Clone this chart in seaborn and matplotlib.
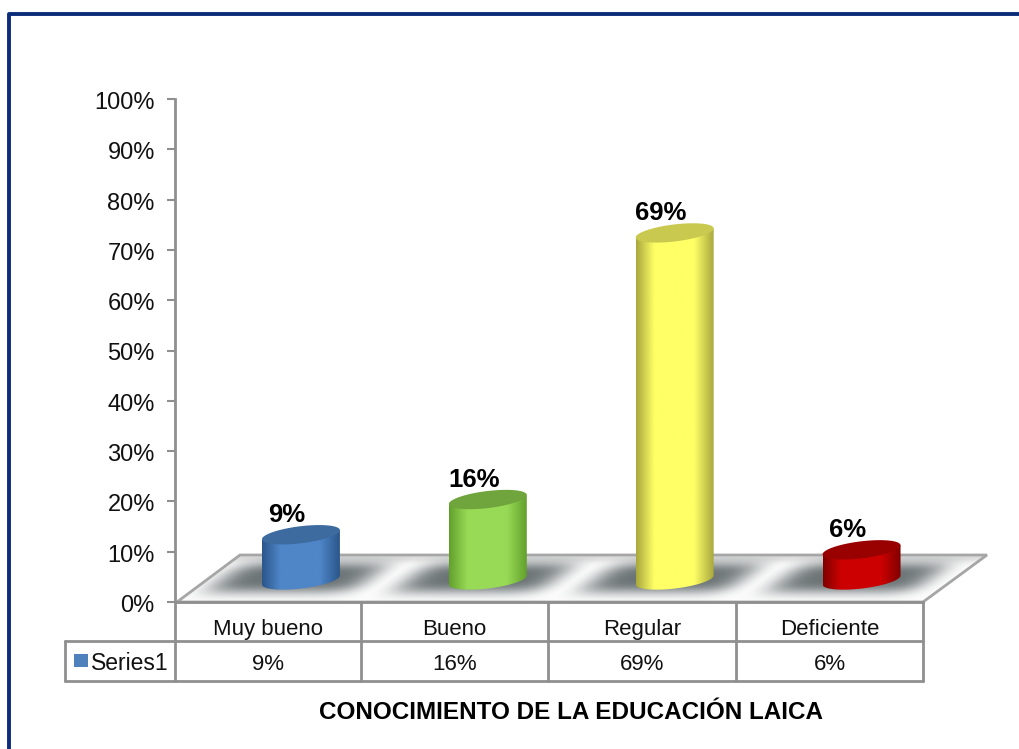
import numpy as np
import pandas as pd
import matplotlib
matplotlib.use("Agg")
import matplotlib.pyplot as plt
from matplotlib.colors import LinearSegmentedColormap
from matplotlib.patches import PathPatch, Polygon, Rectangle
from matplotlib.path import Path
from matplotlib.ticker import PercentFormatter
from matplotlib.transforms import ScaledTranslation
import seaborn as sns

categories = ["Muy bueno", "Bueno", "Regular", "Deficiente"]
values = [9, 16, 69, 6]
series_name = "Series1"
title = "CONOCIMIENTO DE LA EDUCACIÓN LAICA"
y_ticks = list(range(0, 101, 10))

top_colors = ["#3d6b9f", "#6fa53c", "#c9c94f", "#990000"]
edge_colors = ["#2a568a", "#62a02c", "#a8a83e", "#800000"]
mid_colors = ["#4f86c8", "#98da56", "#ffff66", "#cc0000"]
legend_color = "#4f81bd"
grey = "#8f8f8f"
navy = "#0b2c78"

W, H = 1019, 749


def px_axes(fig, left, top, right, bottom, **kw):
    # axes from pixel box of the picture
    return fig.add_axes([left / W, 1 - bottom / H, (right - left) / W, (bottom - top) / H], **kw)


def draw_floor(bg, centres):
    x0, x1, y0, y1 = 177, 987, 555, 602
    xx, yy = np.meshgrid(np.arange(x0, x1), np.arange(y0, y1))
    shade = 0.0 * xx
    for c in centres:
        dx = xx - c + (yy - 577) * 1.3 + 4
        shade = np.maximum(shade, np.exp(-(dx / 76) ** 6))
    shade = shade * np.exp(-np.abs((yy - 577) / 16.0) ** 3)
    base = 0.99 - 0.12 * np.exp(-((yy - 557) / 5.0) ** 2)
    dark = np.array([0.42, 0.45, 0.46])
    img = base[..., None] * (1 - shade[..., None]) + dark * shade[..., None]
    im = bg.imshow(img, extent=(x0, x1, y1, y0), aspect="auto", interpolation="bilinear", zorder=1)
    floor = Polygon([(177, 602), (240, 555), (987, 555), (923, 602)], closed=True,
                    fc="none", ec="#a6a6a6", lw=2, zorder=2)
    bg.add_patch(floor)
    im.set_clip_path(floor)


def draw_table(bg):
    xs = [175, 361, 548, 736, 923]
    bg.plot([175, 923], [602, 602], color=grey, lw=2, zorder=3)
    bg.plot([65, 923], [641, 641], color=grey, lw=2, zorder=3)
    bg.plot([65, 923], [681, 681], color=grey, lw=2, zorder=3)
    bg.plot([65, 65], [641, 681], color=grey, lw=2, zorder=3)
    for x in xs:
        bg.plot([x, x], [602, 681], color=grey, lw=2, zorder=3)
    for i in range(len(categories)):
        mid = (xs[i] + xs[i + 1]) / 2
        bg.text(mid, 635, categories[i], ha="center", va="baseline", fontsize=16, color="#111111")
        bg.text(mid, 670, f"{values[i]}%", ha="center", va="baseline", fontsize=16, color="#111111")
    bg.add_patch(Rectangle((74, 654), 14, 13, fc=legend_color, ec="none", zorder=3))
    bg.text(91, 670, series_name, ha="left", va="baseline", fontsize=16.5, color="#111111")
    bg.text(571, 719, title, ha="center", va="baseline", fontsize=17.5, fontweight="bold", color="#000000")


def draw_cylinders(ax, fig):
    # seaborn bars give the positions, the round look goes on top
    bars = sorted(ax.patches, key=lambda p: p.get_x())
    b, s = 1.7, 0.9
    t = np.linspace(0, 2 * np.pi, 120)
    for i, bar in enumerate(bars):
        a = bar.get_width() / 2
        cx = bar.get_x() + a
        h = bar.get_height()
        ex = cx + a * np.cos(t)
        ey = b * np.sin(t) + s * np.cos(t)
        low = t > np.pi
        body_x = np.r_[ex[low], cx + a, cx - a]
        body_y = np.r_[ey[low], h + s, h - s]
        body = PathPatch(Path(np.c_[body_x, body_y]), transform=ax.transData, fc="none", ec="none")
        body.set_clip_on(False)
        ax.add_patch(body)
        bar.set_visible(False)

        cmap = LinearSegmentedColormap.from_list(
            "cyl", [edge_colors[i], mid_colors[i], mid_colors[i], edge_colors[i]])
        grad = np.interp(np.linspace(0, 1, 200), [0, 0.35, 0.62, 1], [0, 0.5, 0.5, 1])[None, :]
        im = ax.imshow(grad, extent=(cx - a, cx + a, -3, h + 3), cmap=cmap, vmin=0, vmax=1,
                       aspect="auto", zorder=3)
        im.set_clip_box(fig.bbox)
        im.set_clip_path(body)
        ax.fill(ex, h + ey, color=top_colors[i], zorder=4, clip_on=False, lw=0)

        ax.annotate(f"{values[i]}%", (cx, h), xytext=(-14, 13), textcoords="offset pixels",
                    ha="center", va="baseline", fontsize=18.5, fontweight="bold", color="#000000",
                    zorder=5)


def main():
    sns.set_style("white")
    plt.rcParams["font.family"] = ["Liberation Sans", "DejaVu Sans"]

    df = pd.DataFrame({"categoria": categories, "valor": values})

    fig = plt.figure(figsize=(W / 100, H / 100), dpi=100, facecolor="white")

    bg = px_axes(fig, 0, 0, W, H, zorder=0)
    bg.set_xlim(0, W)
    bg.set_ylim(H, 0)
    bg.axis("off")

    ax_y = px_axes(fig, 175, 99, 923, 602, zorder=1)
    ax_y.patch.set_visible(False)
    ax_y.set_ylim(0, 100)
    ax_y.set_yticks(y_ticks)
    ax_y.yaxis.set_major_formatter(PercentFormatter(decimals=0))
    ax_y.set_xticks([])
    ax_y.tick_params(axis="y", left=True, length=5.5, width=1.5, color=grey, pad=9,
                     labelsize=17, labelcolor="#111111")
    down = ScaledTranslation(0, -1.5 / 100, fig.dpi_scale_trans)
    for label in ax_y.get_yticklabels():
        label.set_transform(label.get_transform() + down)
    for name, sp in ax_y.spines.items():
        sp.set_visible(name == "left")
    ax_y.spines["left"].set_color(grey)
    ax_y.spines["left"].set_linewidth(2)

    ax_b = px_axes(fig, 207.5, 77, 955, 580, zorder=2)
    ax_b.patch.set_visible(False)
    sns.barplot(data=df, x="categoria", y="valor", hue="categoria", palette=mid_colors,
                width=0.417, legend=False, ax=ax_b)
    ax_b.set_xlim(-0.5, 3.5)
    ax_b.set_ylim(0, 100)
    ax_b.axis("off")

    centres = [ax_b.transData.transform((p.get_x() + p.get_width() / 2, 0))[0] for p in ax_b.patches]
    draw_floor(bg, sorted(centres))
    bg.set_xlim(0, W)
    bg.set_ylim(H, 0)
    draw_table(bg)
    draw_cylinders(ax_b, fig)
    ax_b.set_xlim(-0.5, 3.5)
    ax_b.set_ylim(0, 100)

    # marco azul de la diapositiva
    bg.plot([9, 9, W], [H, 13.5, 13.5], color=navy, lw=2.8, solid_joinstyle="round", zorder=6)

    fig.savefig("out.png", dpi=100, facecolor="white")


if __name__ == "__main__":
    main()
